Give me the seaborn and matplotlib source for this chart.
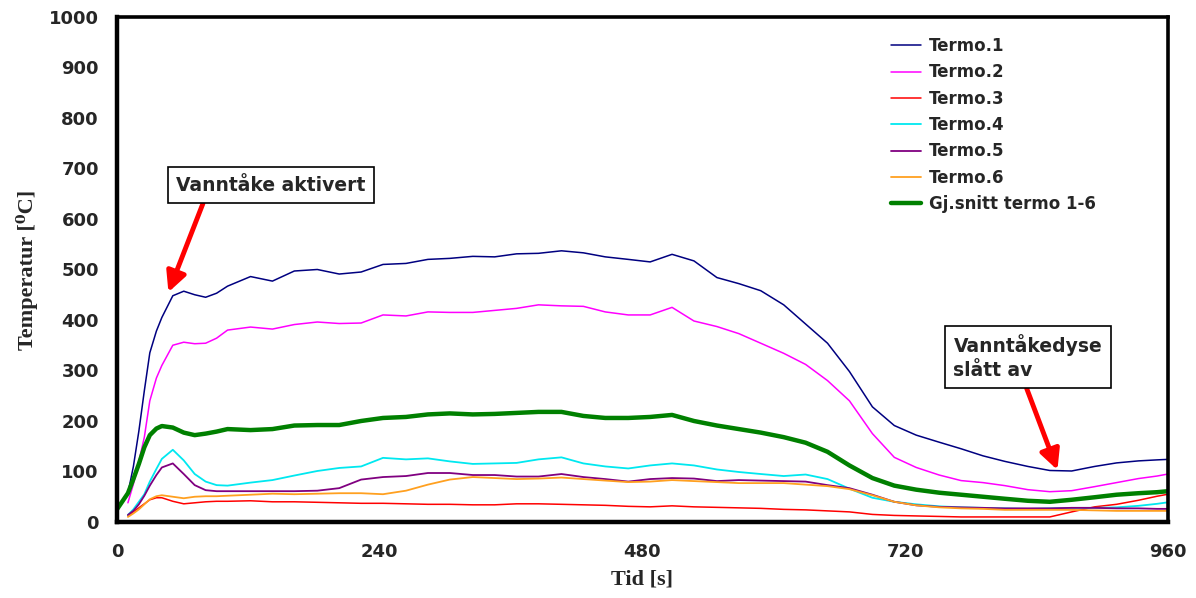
import numpy as np
import pandas as pd
import matplotlib
matplotlib.use('Agg')
import matplotlib.pyplot as plt
from matplotlib.ticker import MultipleLocator
import seaborn as sns

nan = np.nan

# sample times [s]
tid = [0, 10, 15, 20, 25, 30, 36, 41, 51, 61, 71, 81, 91, 101,
       122, 142, 162, 183, 203, 223, 243, 264, 284, 304, 325, 345, 365, 385,
       406, 426, 446, 467, 487, 507, 527, 548, 568, 588, 609, 629, 649, 669,
       690, 710, 730, 751, 771, 791, 811, 832, 852, 872, 893, 913, 933, 950, 960]

termo1 = [nan, 57, 110, 180, 260, 335, 378, 405, 448, 457, 450, 445, 453, 467,
          486, 477, 497, 500, 491, 495, 510, 512, 520, 522, 526, 525, 531, 532,
          537, 533, 525, 520, 515, 530, 517, 484, 472, 458, 430, 392, 354, 298,
          228, 191, 172, 158, 145, 131, 120, 110, 102, 101, 110, 117, 121, 123, 124]

termo2 = [nan, 38, 75, 120, 168, 240, 285, 310, 350, 356, 353, 354, 364, 380,
          386, 382, 391, 396, 393, 394, 410, 408, 416, 415, 415, 419, 423, 430,
          428, 427, 416, 410, 410, 425, 398, 387, 373, 354, 334, 312, 280, 240,
          175, 128, 108, 93, 82, 78, 72, 64, 60, 62, 70, 78, 86, 91, 95]

termo3 = [nan, 12, 20, 28, 36, 44, 48, 48, 41, 36, 38, 40, 41, 41,
          42, 40, 40, 39, 38, 37, 37, 36, 35, 35, 34, 34, 36, 36,
          35, 34, 33, 31, 30, 32, 30, 29, 28, 27, 25, 24, 22, 20,
          15, 13, 12, 11, 10, 10, 10, 10, 10, 20, 30, 35, 43, 51, 55]

termo4 = [nan, 14, 25, 40, 55, 80, 105, 125, 143, 122, 95, 80, 73, 72,
          78, 83, 92, 101, 107, 110, 127, 124, 126, 120, 115, 116, 117, 124,
          128, 116, 110, 106, 112, 116, 112, 104, 99, 95, 91, 94, 85, 66,
          48, 40, 35, 31, 29, 28, 27, 26, 27, 28, 28, 29, 32, 36, 39]

termo5 = [nan, 14, 22, 35, 52, 72, 93, 108, 116, 95, 73, 63, 61, 61,
          61, 61, 61, 62, 67, 84, 89, 91, 97, 97, 93, 93, 90, 90,
          95, 89, 85, 80, 85, 87, 86, 81, 83, 82, 81, 80, 73, 67,
          54, 40, 33, 30, 29, 28, 27, 27, 27, 28, 28, 27, 27, 26, 26]

termo6 = [nan, 10, 17, 25, 35, 45, 51, 53, 50, 47, 50, 51, 51, 52,
          54, 56, 55, 56, 57, 57, 55, 62, 74, 84, 89, 87, 85, 86,
          88, 85, 82, 79, 80, 83, 81, 79, 77, 77, 77, 74, 71, 65,
          53, 40, 33, 29, 27, 26, 24, 24, 24, 24, 23, 22, 22, 22, 22]

snitt = [25, 57, 85, 115, 148, 172, 185, 190, 187, 177, 172, 175, 179, 184,
         182, 184, 191, 192, 192, 200, 206, 208, 213, 215, 213, 214, 216, 218,
         218, 210, 206, 206, 208, 212, 200, 191, 184, 177, 168, 157, 139, 112,
         87, 72, 64, 58, 54, 50, 46, 42, 40, 44, 49, 54, 57, 59, 61]

serier = [
    ('Termo.1', termo1, '#000080', 1.1),
    ('Termo.2', termo2, '#ff00ff', 1.1),
    ('Termo.3', termo3, '#ff0000', 1.1),
    ('Termo.4', termo4, '#00e8f0', 1.3),
    ('Termo.5', termo5, '#800080', 1.3),
    ('Termo.6', termo6, '#ffa020', 1.3),
    ('Gj.snitt termo 1-6', snitt, '#008000', 3.2),
]

sns.set_style('white')
plt.rcParams['font.family'] = ['DejaVu Sans']

fig, ax = plt.subplots(figsize=(11.96, 5.98), dpi=100)
fig.subplots_adjust(left=0.0978, right=0.9766, bottom=0.1271, top=0.9716)

for navn, verdier, farge, lw in serier:
    df = pd.DataFrame({'tid': tid, 'temp': verdier}).dropna()
    sns.lineplot(data=df, x='tid', y='temp', color=farge, linewidth=lw,
                 label=navn, ax=ax, estimator=None, sort=False)

ax.set_xlim(0, 960)
ax.set_ylim(0, 1000)
ax.xaxis.set_major_locator(MultipleLocator(240))
ax.xaxis.set_minor_locator(MultipleLocator(60))
ax.yaxis.set_major_locator(MultipleLocator(100))
ax.yaxis.set_minor_locator(MultipleLocator(50))

ax.tick_params(which='major', direction='inout', length=18, width=2.4,
               color='black', labelsize=13, pad=4)
ax.tick_params(which='minor', direction='out', length=6, width=2.2, color='black')
ax.tick_params(axis='x', which='major', pad=6)
for lab in ax.get_xticklabels() + ax.get_yticklabels():
    lab.set_fontweight('bold')

for side in ['left', 'bottom']:
    ax.spines[side].set_linewidth(3.2)
for side in ['top', 'right']:
    ax.spines[side].set_linewidth(2.6)
for s in ax.spines.values():
    s.set_color('black')

ax.set_xlabel('Tid [s]', family=['Liberation Serif', 'DejaVu Serif'],
              fontsize=16, fontweight='bold', labelpad=6)
ax.set_ylabel('Temperatur [\u2070C]', family=['Liberation Serif', 'DejaVu Serif'],
              fontsize=16, fontweight='bold', labelpad=8)

leg = ax.legend(loc='upper left', bbox_to_anchor=(0.722, 0.99), frameon=False,
                prop={'weight': 'bold', 'size': 12}, handlelength=1.8,
                handletextpad=0.5, labelspacing=0.5)

boks = dict(boxstyle='square,pad=0.45', fc='white', ec='black', lw=1.2)
pil = dict(arrowstyle='-|>', color='red', lw=3.5, mutation_scale=30,
           shrinkA=0, shrinkB=0)

ax.annotate('Vanntåke aktivert', xy=(47, 455), xytext=(54, 667),
            fontsize=13.5, fontweight='bold', ha='left', va='center',
            bbox=boks, arrowprops=dict(pil, relpos=(0.16, 0.0)))

ax.annotate('Vanntåkedyse\nslått av', xy=(859, 103), xytext=(764, 327),
            fontsize=13.5, fontweight='bold', ha='left', va='center',
            linespacing=1.3, bbox=boks,
            arrowprops=dict(pil, relpos=(0.47, 0.0)))

fig.savefig('out.png', dpi=100)
